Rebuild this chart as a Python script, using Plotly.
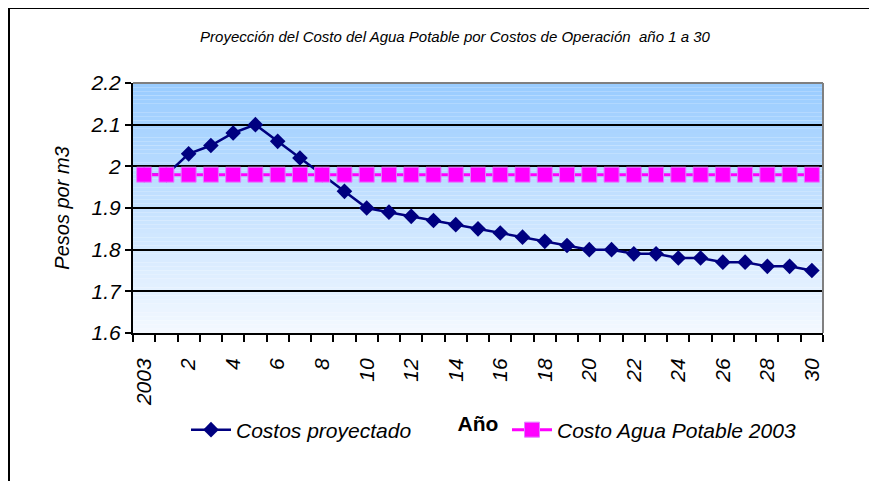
import plotly.graph_objects as go

# ---- data ----
categories = ["2003"] + [str(i) for i in range(1, 31)]
costos_proyectado = [1.98, 1.98, 2.03, 2.05, 2.08, 2.10, 2.06, 2.02, 1.98, 1.94,
                     1.90, 1.89, 1.88, 1.87, 1.86, 1.85, 1.84, 1.83, 1.82, 1.81,
                     1.80, 1.80, 1.79, 1.79, 1.78, 1.78, 1.77, 1.77, 1.76, 1.76, 1.75]
costo_agua_2003 = [1.98] * 31
tick_labels = ["2003"] + [str(i) for i in range(2, 31, 2)]

# page body has an 8px margin; work in page pixel coordinates and convert
OX, OY = 8, 8
W, H = 877 - OX, 481 - OY
PL, PR, PT, PB = 133, 823, 83, 333   # plot area in page px
ML, MT = PL - OX, PT - OY
MR, MB = W - (PR - OX), H - (PB - OY)
PW, PH = PR - PL, PB - PT

def px_to_paper_x(x):
    return (x - PL) / PW

def px_to_paper_y(y):
    return (PB - y) / PH

xpos = list(range(len(categories)))
tickvals = [0] + list(range(2, 31, 2))

FONT = "Liberation Sans, Arial, sans-serif"

fig = go.Figure()
fig.add_trace(go.Scatter(
    x=xpos, y=costos_proyectado, name="Costos proyectado", mode="lines+markers",
    line=dict(color="#000080", width=2.5),
    marker=dict(symbol="diamond", size=12, color="#000080"),
))
fig.add_trace(go.Scatter(
    x=xpos, y=costo_agua_2003, name="Costo Agua Potable 2003", mode="lines+markers",
    line=dict(color="#FF00FF", width=3),
    marker=dict(symbol="square", size=15, color="#FF00FF",
                line=dict(color="#E080FF", width=1)),
))

shapes = []
# gradient background
N = 60
top = (153, 204, 255)
bot = (243, 248, 255)
for i in range(N):
    t = i / (N - 1)
    c = tuple(round(top[k] + (bot[k] - top[k]) * t) for k in range(3))
    shapes.append(dict(type="rect", xref="paper", yref="paper",
                       x0=0, x1=1, y0=1 - (i + 1) / N, y1=1 - i / N,
                       fillcolor="rgb(%d,%d,%d)" % c, line=dict(width=0),
                       layer="below"))
# top and right gray border of plot area
shapes.append(dict(type="line", xref="paper", yref="paper", x0=0, x1=1, y0=1, y1=1,
                   line=dict(color="#808080", width=2)))
shapes.append(dict(type="line", xref="paper", yref="paper", x0=1, x1=1, y0=0, y1=1,
                   line=dict(color="#808080", width=2)))
# outer chart frame
shapes.append(dict(type="rect", xref="paper", yref="paper",
                   x0=px_to_paper_x(9), x1=px_to_paper_x(900),
                   y0=px_to_paper_y(520), y1=px_to_paper_y(8),
                   line=dict(color="black", width=2), fillcolor="rgba(0,0,0,0)"))

fig.update_layout(
    width=W, height=H,
    margin=dict(l=ML, r=MR, t=MT, b=MB, pad=0),
    paper_bgcolor="white", plot_bgcolor="white",
    shapes=shapes,
    title=dict(text="Proyección del Costo del Agua Potable por Costos de Operación  año 1 a 30",
               x=(455 - OX) / W, xanchor="center", y=1 - (37 - OY) / H, yanchor="middle",
               font=dict(family=FONT, size=15, style="italic", color="black")),
    showlegend=True,
    legend=dict(orientation="h", x=px_to_paper_x(186), xanchor="left",
                y=px_to_paper_y(430), yanchor="middle",
                font=dict(family=FONT, size=21, style="italic", color="black"),
                bgcolor="rgba(0,0,0,0)", entrywidth=266, entrywidthmode="pixels",
                itemwidth=40),
    xaxis=dict(
        range=[-0.5, 30.5], tickmode="array", tickvals=tickvals, ticktext=tick_labels,
        tickangle=-90, ticks="outside", ticklen=15, tickcolor="rgba(0,0,0,0)",
        showgrid=False, zeroline=False,
        showline=True, linecolor="black", linewidth=2,
        tickfont=dict(family=FONT, size=21, style="italic", color="black"),
        minor=dict(tickmode="array", tickvals=[i - 0.5 for i in range(32)],
                   ticks="outside", ticklen=7, tickwidth=2, tickcolor="black", showgrid=False),
        title=dict(text="<b>Año</b>", standoff=11,
                   font=dict(family=FONT, size=21, color="black")),
    ),
    yaxis=dict(
        range=[1.6, 2.2], dtick=0.1, tick0=1.6,
        showgrid=True, gridcolor="black", gridwidth=2, zeroline=False,
        showline=True, linecolor="black", linewidth=2,
        ticks="outside", ticklen=6, tickwidth=2, tickcolor="black",
        tickfont=dict(family=FONT, size=21, style="italic", color="black"),
        title=dict(text="Pesos por m3", standoff=16,
                   font=dict(family=FONT, size=20, style="italic", color="black")),
    ),
)

fig.write_html("out.html")
